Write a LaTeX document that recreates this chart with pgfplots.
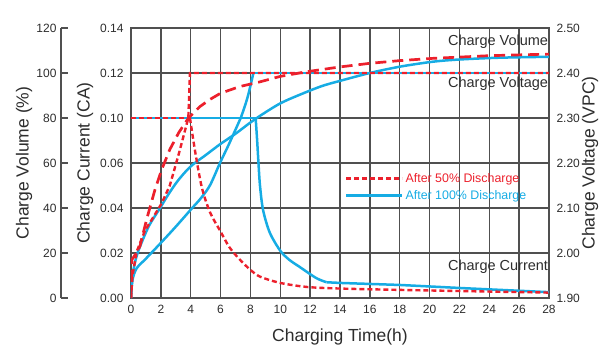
\documentclass[border=0pt]{standalone}
\usepackage{pgfplots}
\pgfplotsset{compat=1.18}
\usepackage{fontspec}
\setmainfont{Liberation Sans}
\definecolor{myred}{RGB}{236,32,44}
\definecolor{myblue}{RGB}{22,172,228}
\definecolor{gridc}{RGB}{80,80,80}
\definecolor{txt}{RGB}{45,45,45}
\pgfplotsset{
  redvol/.style={myred, line width=2.7pt, dash pattern=on 11pt off 6pt},
  reddot/.style={myred, line width=2.4pt, dash pattern=on 5pt off 3pt},
  blueline/.style={myblue, line width=2.5pt},
}
\begin{document}
\begin{tikzpicture}
\useasboundingbox (-131pt,-56pt) rectangle (475pt,298pt);
% ---------- charge volume axis (far left)
\begin{axis}[
  at={(-70pt,0pt)}, anchor=south west,
  scale only axis, width=10pt, height=270pt,
  xmin=0, xmax=1, ymin=0, ymax=120,
  axis x line=none, axis y line*=left,
  axis line style={gridc, line width=1.4pt, -},
  ytick={0,20,...,120},
  yticklabels={0,20,40,60,80,100,120},
  tick align=inside, major tick length=7pt,
  tick style={gridc, line width=1.4pt},
  tick label style={font=\fontsize{12}{14}\selectfont, text=txt},
  yticklabel style={xshift=-1pt},
  ylabel={Charge Volume (\%)},
  ylabel style={at={(axis description cs:-3.7,0.5)}, anchor=center,
    font=\fontsize{17.5}{20}\selectfont, text=txt},
]
\addplot[draw=none] coordinates {(0,0)};
\end{axis}
% ---------- right voltage axis
\begin{axis}[
  at={(0pt,0pt)}, anchor=south west,
  scale only axis, width=418pt, height=270pt,
  xmin=0, xmax=28, ymin=1.9, ymax=2.5,
  axis x line=none, axis y line*=right,
  y axis line style={draw=none},
  ytick={1.9,2.0,2.1,2.2,2.3,2.4,2.5},
  yticklabels={1.90,2.00,2.10,2.20,2.30,2.40,2.50},
  major tick length=0pt,
  tick label style={font=\fontsize{12}{14}\selectfont, text=txt},
  yticklabel style={xshift=4pt},
  ylabel={Charge Voltage (VPC)},
  ylabel style={at={(axis description cs:1.0981,0.5)}, anchor=center,
    font=\fontsize{17.5}{20}\selectfont, text=txt},
]
\addplot[draw=none] coordinates {(0,2)};
\end{axis}
% ---------- main axis
\begin{axis}[
  at={(0pt,0pt)}, anchor=south west,
  scale only axis, width=418pt, height=270pt,
  xmin=0, xmax=28, ymin=0, ymax=120,
  xtick={0,2,...,28},
  xticklabels={0,2,4,6,8,10,12,14,16,18,20,22,24,26,28},
  ytick={0,20,...,120},
  yticklabels={0.00,0.02,0.04,0.06,0.10,0.12,0.14},
  grid=major, grid style={gridc, line width=1.3pt},
  axis line style={gridc, line width=1.3pt},
  major tick length=0pt,
  tick label style={font=\fontsize{12}{14}\selectfont, text=txt},
  xticklabel style={yshift=-4pt},
  yticklabel style={xshift=-4pt},
  xlabel={Charging Time(h)}, ylabel={Charge Current (CA)},
  xlabel style={at={(axis description cs:0.5,0)}, yshift=-39pt, anchor=center,
    font=\fontsize{17.5}{20}\selectfont, text=txt},
  ylabel style={at={(axis description cs:-0.1100,0.5)}, anchor=center,
    font=\fontsize{17.5}{20}\selectfont, text=txt},
  legend style={at={(axis cs:14.33,56.5)}, anchor=north west, draw=none, fill=none,
    font=\fontsize{12.4}{14}\selectfont, row sep=2.5pt, inner sep=0pt,
    nodes={inner sep=2pt}},
  legend cell align=left,
  legend image code/.code={\draw[#1] (0pt,0pt) -- (45pt,0pt); \path (0pt,0pt) -- (56pt,0pt);},
]
% ---- blue: after 100% discharge
% volume
\addplot[blueline, smooth, tension=0.5, forget plot] coordinates {
 (0,0) (0.05,6) (0.15,12) (0.35,18) (0.6,22.8) (1.2,32) (1.94,39.9) (2.5,46)
 (3.17,52.4) (4,58.5) (5,63.5) (6,68.5) (7,73) (8,78) (9,82.5) (10,86.5)
 (11,89.5) (12.7,94) (14,96.5) (16,100) (18,102.8) (20.2,105) (22,106)
 (24.7,106.8) (28,107.2)};
% voltage
\addplot[blueline, smooth, tension=0.5, forget plot] coordinates {
 (0,0) (0.1,8) (0.38,13.2) (1,17.5) (2,24.5) (3,31.7) (4.06,39.7) (4.7,44.5)
 (5.3,50.2) (5.96,60) (6.5,67.5) (7.08,76) (7.35,80) (7.8,89) (8.2,100)};
\addplot[blueline, forget plot] coordinates {(8.2,100) (28,100)};
% current
\addplot[blueline, forget plot] coordinates {(0,80) (8.35,80)};
\addplot[blueline, smooth, tension=0.5, forget plot] coordinates {
 (8.35,80) (8.45,70) (8.53,61) (8.64,50) (8.85,39) (9.3,29) (10,21) (10.6,17)
 (11.3,13.8) (12.4,8.9) (13.1,7.0)};
\addplot[blueline, forget plot] coordinates {
 (13.1,7.0) (14,6.7) (18,5.8) (22.5,4.3) (28,2.6)};
% ---- red: after 50% discharge
% volume
\addplot[redvol, forget plot] coordinates {
 (0,0) (0.06,17) (0.35,20) (0.6,23) (1.05,35) (1.6,48) (2.05,57) (2.6,66)
 (3.2,73.5) (3.85,80) (4.6,85) (5.3,88.3) (6,91) (7.3,94) (8.6,96) (10,98.5)
 (11.8,100.6) (14,102.7) (16,104.3) (18,105.5) (20.2,106.5) (24,107.7) (28,108.4)};
% voltage
\addplot[reddot, forget plot] coordinates {
 (0,0) (0.1,10) (0.38,20.6) (0.94,30) (1.5,36) (2.05,42) (2.6,50) (3.2,64)
 (3.84,80) (3.95,100) (28,100)};
% current
\addplot[reddot, forget plot] coordinates {(0,80) (3.95,80)};
\addplot[reddot, smooth, tension=0.5, forget plot] coordinates {
 (3.95,80) (4.3,65) (4.75,49) (5.3,38) (5.96,30) (6.6,22.5) (7.3,17) (8,12.5)
 (8.64,9.5) (10,6.7) (11.8,4.9) (14,4.2) (18,3.6) (22,3.1) (28,2.4)};
% legend
\addlegendimage{reddot}
\addlegendentry{\textcolor{myred}{After 50\% Discharge}}
\addlegendimage{blueline}
\addlegendentry{\textcolor{myblue}{After 100\% Discharge}}
% inner labels
\node[anchor=east, font=\fontsize{14.5}{16}\selectfont, text=txt, inner sep=0pt]
  at (axis cs:27.95,113.8) {Charge Volume};
\node[anchor=east, font=\fontsize{14.5}{16}\selectfont, text=txt, inner sep=0pt]
  at (axis cs:27.95,95.4) {Charge Voltage};
\node[anchor=east, font=\fontsize{14.5}{16}\selectfont, text=txt, inner sep=0pt]
  at (axis cs:27.95,14) {Charge Current};
\node[anchor=east, font=\fontsize{14}{16}\selectfont, text=txt, inner sep=0pt]
  at (axis description cs:1,1) [yshift=15.5pt] {Temperature:25°C (77°F)};
\end{axis}
\end{tikzpicture}
\end{document}
